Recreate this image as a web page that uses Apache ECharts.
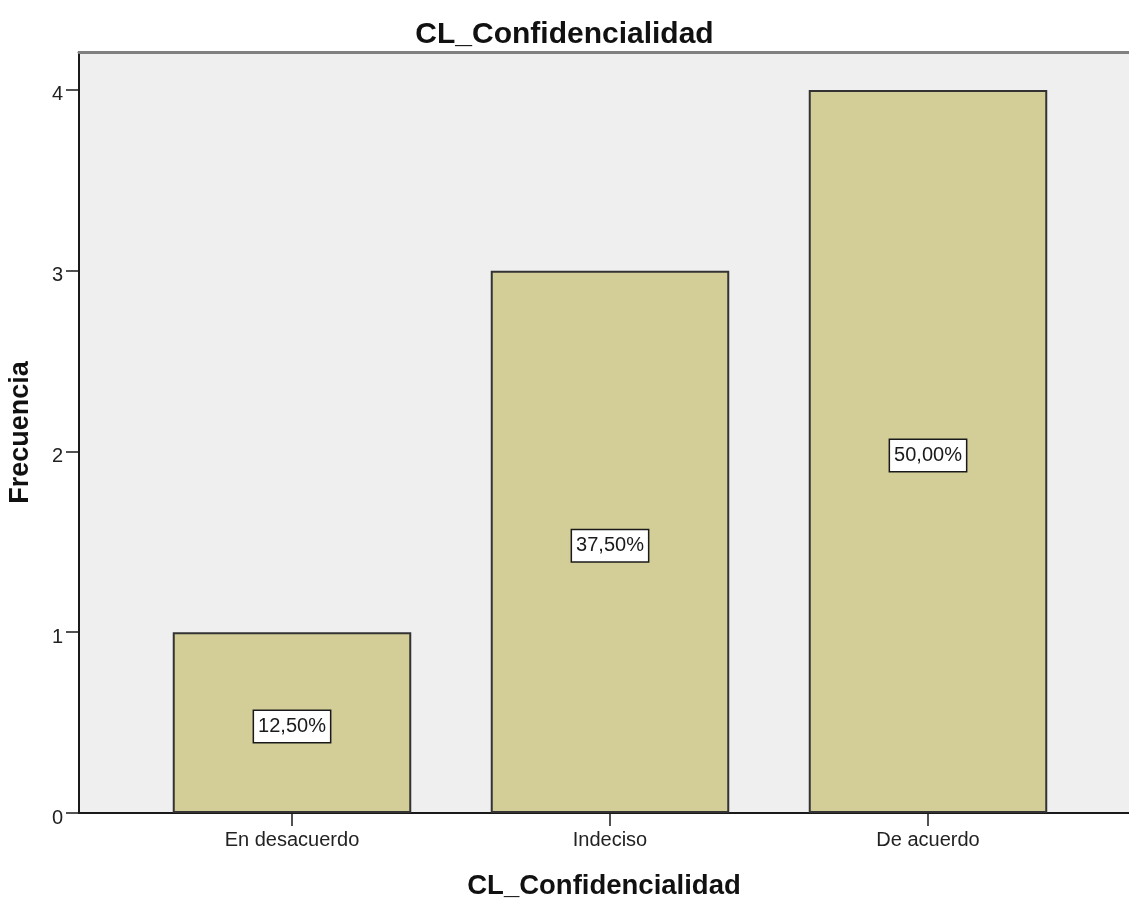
<!DOCTYPE html>
<html>
<head>
<meta charset="utf-8">
<script src="https://cdn.jsdelivr.net/npm/echarts@6/dist/echarts.min.js"></script>
<style>
  html, body { margin: 0; padding: 0; background: #ffffff; }
  #chart { width: 1129px; height: 898px; }
</style>
</head>
<body>
<div id="chart"></div>
<script>
// Response categories and their frequencies
const categories = ['En desacuerdo', 'Indeciso', 'De acuerdo'];
const frequencies = [1, 3, 4];
const yTickValues = [0, 1, 2, 3, 4];

const total = frequencies.reduce((a, b) => a + b, 0);
const FONT = "'Liberation Sans', Arial, sans-serif";

const chart = echarts.init(document.getElementById('chart'), null, { renderer: 'canvas' });

chart.setOption({
  animation: false,
  backgroundColor: '#ffffff',
  title: {
    text: 'CL_Confidencialidad',
    left: 'center',
    top: 15,
    textStyle: { fontFamily: FONT, fontSize: 30, fontWeight: 'bold', color: '#111' }
  },
  grid: [
    // frame with grey plot background
    { left: 79, right: 0, top: 52, bottom: 85, show: true, backgroundColor: '#efefef', borderWidth: 0,
      containLabel: false, outerBoundsMode: 'none' },
    // bar band area
    { left: 133, right: 42, top: 52, bottom: 85, containLabel: false, outerBoundsMode: 'none' }
  ],
  xAxis: [
    {
      gridIndex: 0, type: 'value', min: 0, max: 1, position: 'bottom',
      axisLine: { show: true, lineStyle: { color: '#1a1a1a', width: 2 } },
      axisTick: { show: false }, axisLabel: { show: false }, splitLine: { show: false },
      name: 'CL_Confidencialidad', nameLocation: 'middle', nameGap: 59,
      nameTextStyle: { fontFamily: FONT, fontSize: 27.5, fontWeight: 'bold', color: '#111' }
    },
    {
      gridIndex: 0, type: 'value', min: 0, max: 1, position: 'top',
      axisLine: { show: true, lineStyle: { color: '#808080', width: 3 } },
      axisTick: { show: false }, axisLabel: { show: false }, splitLine: { show: false }
    },
    {
      gridIndex: 1, type: 'category', data: categories,
      axisLine: { show: false },
      axisTick: { show: true, alignWithLabel: true, length: 13, lineStyle: { color: '#1a1a1a', width: 1.5 } },
      axisLabel: { margin: 17, fontFamily: FONT, fontSize: 20, color: '#222' },
      splitLine: { show: false }
    }
  ],
  yAxis: [
    {
      gridIndex: 0, type: 'value', min: 0, max: 4.21,
      axisLine: { show: true, lineStyle: { color: '#1a1a1a', width: 2 } },
      axisTick: { show: true, length: 13, customValues: yTickValues, lineStyle: { color: '#1a1a1a', width: 1.5 } },
      axisLabel: {
        margin: 16, customValues: yTickValues, fontFamily: FONT, fontSize: 20, color: '#222',
        verticalAlign: 'top', lineHeight: 10
      },
      splitLine: { show: false },
      name: 'Frecuencia', nameLocation: 'middle', nameGap: 45, nameRotate: 90,
      nameTextStyle: { fontFamily: FONT, fontSize: 27, fontWeight: 'bold', color: '#111' }
    },
    { gridIndex: 1, type: 'value', min: 0, max: 4.21, show: false }
  ],
  series: [
    {
      type: 'bar',
      xAxisIndex: 2,
      yAxisIndex: 1,
      data: frequencies,
      barWidth: '75%',
      itemStyle: { color: '#d3ce98', borderColor: '#333333', borderWidth: 2 },
      label: {
        show: true,
        position: 'inside',
        offset: [0, 4],
        formatter: p => (p.value / total * 100).toFixed(2).replace('.', ',') + '%',
        fontFamily: FONT,
        fontSize: 20,
        color: '#1a1a1a',
        backgroundColor: '#ffffff',
        borderColor: '#1a1a1a',
        borderWidth: 1.5,
        padding: [6, 4, 5, 4]
      }
    }
  ]
});
</script>
</body>
</html>
